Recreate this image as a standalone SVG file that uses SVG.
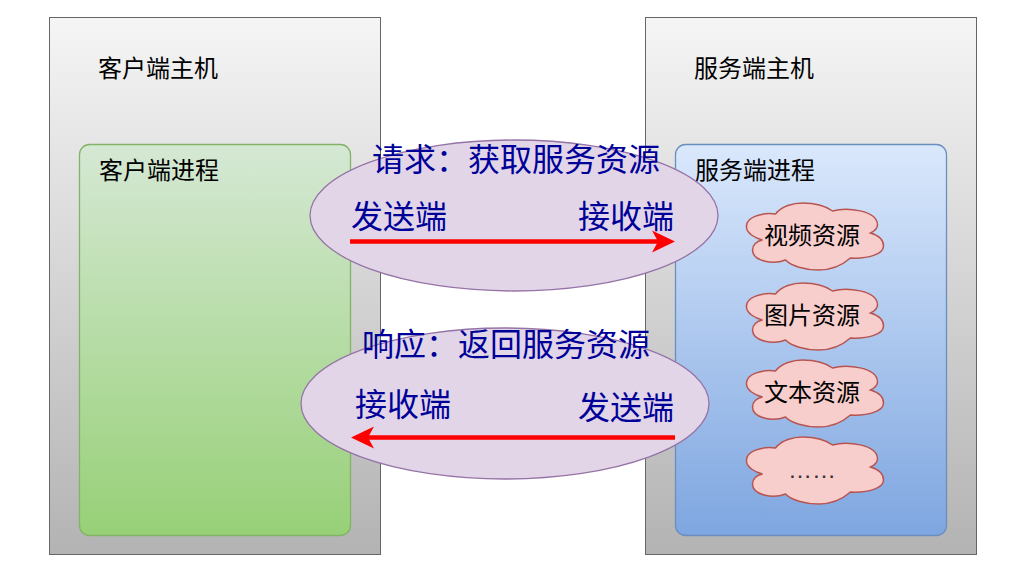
<svg xmlns="http://www.w3.org/2000/svg" xmlns:xlink="http://www.w3.org/1999/xlink" width="1023" height="577" viewBox="0 0 1023 577" lang="zh-CN">
<style>
text{font-family:"Noto Sans CJK SC","Liberation Sans",sans-serif;}
.lbl{font-size:24px;fill:#000;}
.big{font-size:32px;fill:#000099;}
.dots{font-family:"Liberation Sans",sans-serif;font-size:24px;fill:#333;}
.host{stroke:#666;stroke-width:1;fill:url(#gh);}
.ell{fill:#e1d5e7;stroke:#9673a6;stroke-width:1.3;}
.cloud{fill:#f8cecc;stroke:#b85450;stroke-width:1.500;}
.arrow{stroke:#f00;stroke-width:4.500;fill:none;}
</style>
<defs>
<linearGradient id="gh" x1="0" y1="0" x2="0" y2="1"><stop offset="0" stop-color="#f5f5f5"/><stop offset="1" stop-color="#b3b3b3"/></linearGradient>
<linearGradient id="gg" x1="0" y1="0" x2="0" y2="1"><stop offset="0" stop-color="#d5e8d4"/><stop offset="1" stop-color="#97d077"/></linearGradient>
<linearGradient id="gb" x1="0" y1="0" x2="0" y2="1"><stop offset="0" stop-color="#dae8fc"/><stop offset="1" stop-color="#7ea6e0"/></linearGradient>
<marker id="ah" markerUnits="userSpaceOnUse" markerWidth="26" markerHeight="26" refX="16" refY="12" orient="auto"><path d="M0,1 L23,12 L0,23 L6,12 Z" fill="#f00"/></marker>
<path id="cl" d="M0,24 C-1,15 14,9 29,11 C35,3 47,0 56,0 C68,0 79,3 86,8 C100,4 131,7 131,22 C131,25 128,28 124,30 C134,33 137,38 137,43 C137,51 122,56 104,55 C96,62 84,67 72,67 C58,67 45,63 39,57 C26,62 6,58 6,47 C6,42 10,38 16,37 C8,35 0,30 0,24 Z"/>
</defs>
<g id="client-host"><rect class="host" x="49.500" y="17.500" width="331" height="537"/><text class="lbl" x="98" y="77">客户端主机</text></g>
<g id="server-host"><rect class="host" x="645.500" y="17.500" width="331" height="537"/><text class="lbl" x="694" y="77">服务端主机</text></g>
<g id="client-process"><rect x="79.500" y="144.500" width="271" height="391" rx="10" fill="url(#gg)" stroke="#82b366" stroke-width="1.3"/><text class="lbl" x="99" y="179">客户端进程</text></g>
<g id="server-process"><rect x="675.500" y="144.500" width="271" height="391" rx="10" fill="url(#gb)" stroke="#6c8ebf" stroke-width="1.3"/><text class="lbl" x="695" y="179">服务端进程</text></g>
<g id="video"><use xlink:href="#cl" class="cloud" x="746.500" y="203"/><text class="lbl" x="764" y="244">视频资源</text></g>
<g id="image"><use xlink:href="#cl" class="cloud" x="746.500" y="283"/><text class="lbl" x="764" y="324">图片资源</text></g>
<g id="text-res"><use xlink:href="#cl" class="cloud" x="746.500" y="360"/><text class="lbl" x="764" y="401">文本资源</text></g>
<g id="more"><use xlink:href="#cl" class="cloud" x="746.500" y="437"/><text class="dots" x="788" y="478">……</text></g>
<g id="request"><ellipse class="ell" cx="514" cy="215.500" rx="204" ry="75.500"/><text class="big" x="372" y="171">请求&#xFF1A;获取服务资源</text><text class="big" x="351" y="228">发送端</text><text class="big" x="578" y="228">接收端</text></g>
<g id="response"><ellipse class="ell" cx="505" cy="403.500" rx="204" ry="75.500"/><text class="big" x="362" y="356">响应&#xFF1A;返回服务资源</text><text class="big" x="355" y="416">接收端</text><text class="big" x="578" y="419">发送端</text></g>
<g id="connectors">
<line class="arrow" x1="350" y1="241.500" x2="668" y2="241.500" marker-end="url(#ah)"/>
<line class="arrow" x1="675" y1="437.500" x2="358" y2="437.500" marker-end="url(#ah)"/>
</g>
</svg>
